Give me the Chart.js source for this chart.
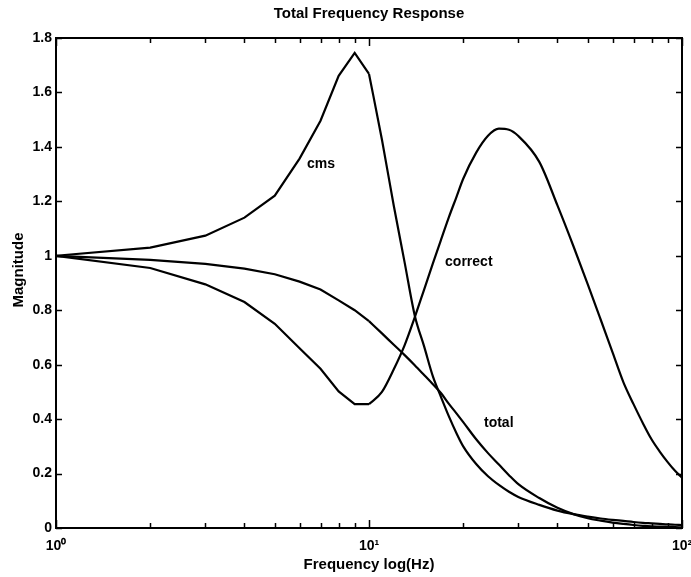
<!DOCTYPE html>
<html>
<head>
<meta charset="utf-8">
<style>
  html, body { margin: 0; padding: 0; background: #fff; }
  #wrap { width: 691px; height: 577px; position: relative; }
</style>
<script src="https://cdn.jsdelivr.net/npm/chart.js@4/dist/chart.umd.min.js"></script>
</head>
<body>
<div id="wrap"><canvas id="c" width="691" height="577"></canvas></div>
<script>
// Frequency samples (Hz)
const freq = [1, 2, 3, 4, 5, 6, 7, 8, 9, 10, 11, 12, 13, 14, 15, 16, 17, 18, 19, 20,
              22, 24, 26, 28, 30, 35, 40, 45, 50, 55, 60, 65, 70, 75, 80, 85, 90, 95, 100];

// Magnitude of each response at those frequencies
const cms = [1.000, 1.030, 1.074, 1.140, 1.221, 1.357, 1.496, 1.661, 1.745, 1.668,
             1.426, 1.184, 0.975, 0.781, 0.667, 0.557, 0.480, 0.410, 0.350, 0.300,
             0.235, 0.190, 0.158, 0.133, 0.114, 0.085, 0.064, 0.051, 0.042, 0.035,
             0.030, 0.026, 0.022, 0.019, 0.017, 0.015, 0.013, 0.012, 0.011];

const correct = [1.000, 0.955, 0.895, 0.830, 0.750, 0.660, 0.585, 0.502, 0.455, 0.455,
                 0.500, 0.583, 0.672, 0.774, 0.876, 0.972, 1.060, 1.142, 1.214, 1.283,
                 1.379, 1.441, 1.467, 1.463, 1.440, 1.345, 1.185, 1.035, 0.895, 0.765,
                 0.645, 0.535, 0.455, 0.385, 0.325, 0.280, 0.242, 0.210, 0.185];

const total = [1.000, 0.985, 0.970, 0.953, 0.932, 0.905, 0.876, 0.836, 0.800, 0.760,
               0.715, 0.673, 0.635, 0.598, 0.562, 0.528, 0.495, 0.456, 0.422, 0.389,
               0.326, 0.275, 0.233, 0.194, 0.161, 0.110, 0.074, 0.051, 0.036, 0.027,
               0.020, 0.015, 0.011, 0.008, 0.006, 0.005, 0.004, 0.003, 0.002];

// Below 10 Hz the samples are sparse on the log axis and joined by straight
// segments; from 10 Hz up they are drawn as a smooth curve.
const SPLIT_FREQ = 10;

// Axis ticks
const xTickValues = [1, 2, 3, 4, 5, 6, 7, 8, 9, 10, 20, 30, 40, 50, 60, 70, 80, 90, 100];
const xTickLabels = { 1: '10\u2070', 10: '10\u00B9', 100: '10\u00B2' };
const yTickValues = [0, 0.2, 0.4, 0.6, 0.8, 1, 1.2, 1.4, 1.6, 1.8];
const yTickLabels = ['0', '0.2', '0.4', '0.6', '0.8', '1', '1.2', '1.4', '1.6', '1.8'];

// In-plot curve names and where they sit (frequency, magnitude)
const curveNames = ['cms', 'correct', 'total'];
const curveNameFreq = [6.34, 17.5, 23.3];
const curveNameMag = [1.335, 0.975, 0.387];

const titleText = 'Total Frequency Response';
const yTitleText = 'Magnitude';
const FONT = "'Liberation Sans', Arial, Helvetica, sans-serif";

Chart.defaults.font.family = FONT;
Chart.defaults.font.size = 14;
Chart.defaults.font.weight = 'bold';
Chart.defaults.color = '#000';

const splitIdx = freq.indexOf(SPLIT_FREQ);
const toPoints = (ys, from, to) =>
  freq.slice(from, to).map((f, i) => ({ x: f, y: ys[from + i] }));

const lineStyle = {
  borderColor: '#000',
  borderWidth: 2.2,
  pointRadius: 0,
  fill: false
};

function curveDatasets(name, ys) {
  return [
    { label: name, data: toPoints(ys, 0, splitIdx + 1), tension: 0, ...lineStyle },
    { label: name, data: toPoints(ys, splitIdx), cubicInterpolationMode: 'monotone', ...lineStyle }
  ];
}

// Frame around the plot with inward-pointing ticks, titles and curve names
const framePlugin = {
  id: 'frame',
  afterDraw(chart) {
    const { ctx, chartArea: a, scales } = chart;
    const xs = scales.x, ys = scales.y;
    ctx.save();
    ctx.strokeStyle = '#000';
    ctx.lineWidth = 2;
    ctx.strokeRect(a.left, a.top, a.right - a.left, a.bottom - a.top);

    ctx.lineWidth = 1.5;
    ctx.beginPath();
    xTickValues.forEach(v => {
      const px = Math.round(xs.getPixelForValue(v)) + 0.5;
      const len = xTickLabels[v] ? 8 : 5;
      ctx.moveTo(px, a.bottom); ctx.lineTo(px, a.bottom - len);
      ctx.moveTo(px, a.top); ctx.lineTo(px, a.top + len);
    });
    yTickValues.forEach(v => {
      const py = Math.round(ys.getPixelForValue(v)) + 0.5;
      ctx.moveTo(a.left, py); ctx.lineTo(a.left + 6, py);
      ctx.moveTo(a.right, py); ctx.lineTo(a.right - 6, py);
    });
    ctx.stroke();

    ctx.fillStyle = '#000';
    ctx.font = 'bold 15px ' + FONT;
    ctx.textBaseline = 'middle';
    ctx.textAlign = 'center';
    ctx.fillText(titleText, (a.left + a.right) / 2, 14);

    // vertical axis title, sitting a little above the middle of the axis
    ctx.save();
    ctx.translate(19, (a.top + a.bottom) / 2 - 13);
    ctx.rotate(-Math.PI / 2);
    ctx.fillText(yTitleText, 0, 0);
    ctx.restore();

    ctx.textAlign = 'left';
    ctx.font = 'bold 14px ' + FONT;
    curveNames.forEach((name, i) => {
      ctx.fillText(name, xs.getPixelForValue(curveNameFreq[i]), ys.getPixelForValue(curveNameMag[i]));
    });
    ctx.restore();
  }
};

new Chart(document.getElementById('c'), {
  type: 'line',
  data: {
    datasets: [
      ...curveDatasets('cms', cms),
      ...curveDatasets('correct', correct),
      ...curveDatasets('total', total)
    ]
  },
  options: {
    responsive: false,
    animation: false,
    devicePixelRatio: 1,
    layout: { padding: { top: 38, right: 9, left: 0, bottom: 0 } },
    plugins: {
      legend: { display: false },
      title: { display: false },
      tooltip: { enabled: false }
    },
    scales: {
      x: {
        type: 'logarithmic',
        min: 1,
        max: 100,
        grid: { display: false, drawTicks: false },
        border: { display: false },
        afterBuildTicks(scale) { scale.ticks = xTickValues.map(v => ({ value: v })); },
        afterFit(scale) {
          scale.height = 49;
          scale.paddingLeft = 0;
          scale.paddingRight = 0;
        },
        ticks: {
          autoSkip: false,
          maxRotation: 0,
          padding: 10,
          callback: (v) => xTickLabels[v] || ''
        },
        title: {
          display: true,
          text: 'Frequency log(Hz)',
          padding: { top: 0, bottom: 3 },
          font: { size: 15, weight: 'bold' }
        }
      },
      y: {
        type: 'linear',
        min: 0,
        max: 1.8,
        grid: { display: false, drawTicks: false },
        border: { display: false },
        afterBuildTicks(scale) { scale.ticks = yTickValues.map(v => ({ value: v })); },
        afterFit(scale) {
          scale.width = 56;
          scale.paddingTop = 0;
          scale.paddingBottom = 0;
        },
        ticks: {
          padding: 4,
          callback: (v) => yTickLabels[yTickValues.indexOf(v)]
        }
      }
    }
  },
  plugins: [framePlugin]
});
</script>
</body>
</html>
